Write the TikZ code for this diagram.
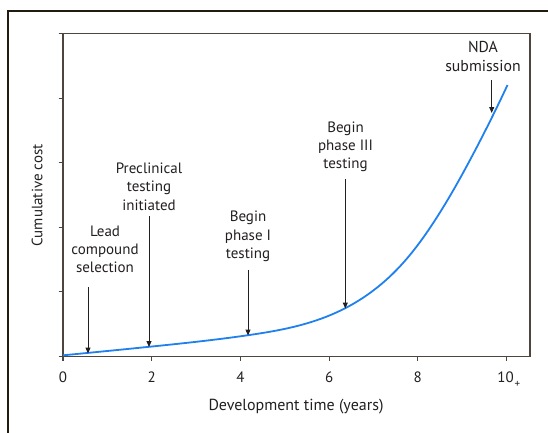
\documentclass[tikz,border=0pt]{standalone}
\usepackage{fontspec}
\setmainfont{PT Sans}
\usetikzlibrary{arrows.meta,hobby}
\definecolor{txt}{HTML}{231F20}
\definecolor{axc}{HTML}{4D4640}
\definecolor{frm}{HTML}{231A10}
\definecolor{curveblue}{HTML}{1F80EE}
\begin{document}
\begin{tikzpicture}[x=1pt,y=-1pt,
  lbl/.style={font=\fontsize{15}{18.3}\selectfont, text=txt, align=center, inner sep=0pt},
  ticklbl/.style={font=\fontsize{15}{18}\selectfont, text=txt, inner sep=0pt},
  pointer/.style={draw=txt, line width=1pt, -{Triangle[length=6pt,width=5pt]}},
  axisline/.style={draw=axc, line width=1.3pt},
  tickline/.style={draw=axc, line width=1.1pt}]
\useasboundingbox (0,0) rectangle (548,432);
% outer frame (left and top)
\draw[frm, line width=2pt] (8,433) -- (8,11) -- (549,11);
% plot box
\draw[axisline] (63,33.5) rectangle (530,356.5);
% y ticks
\foreach \yy in {33.5,98.1,162.7,227.3,291.9,356.5}
  \draw[tickline] (58.5,\yy) -- (63,\yy);
% x ticks and labels
\foreach \k/\xx in {0/63,2/151.7,4/240.4,6/329.1,8/417.8}{
  \draw[tickline] (\xx,356.5) -- (\xx,361);
  \node[ticklbl] (xt\k) at (\xx,377) {\k};
}
\draw[tickline] (506.5,356.5) -- (506.5,361);
\node[ticklbl] (xt10) at (505.5,377) {10};
\node[ticklbl, font=\fontsize{11}{13}\selectfont] (xtplus) at (517.5,384) {+};
% axis labels
\node[lbl, font=\fontsize{16}{18.3}\selectfont] (xlab) at (296,406.5) {Development time (years)};
\node[lbl, rotate=90] (ylab) at (37,195.5) {Cumulative cost};
% curve
\draw[curveblue, line width=1.8pt, use Hobby shortcut]
  (63,355.3) .. (149,346.8) .. (248,335.2) .. (307,323.3) .. (345,308.3)
  .. (393,273.5) .. (433,223.3) .. (470,160) .. (507.5,85);
% labels
\node[lbl] (lead) at (105,249.2) {Lead\\compound\\selection};
\node[lbl] (precl) at (149,186.5) {Preclinical\\testing\\initiated};
\node[lbl] (ph1) at (248,236.5) {Begin\\phase I\\testing};
\node[lbl] (ph3) at (345.5,146.7) {Begin\\phase III\\testing};
\node[lbl, font=\fontsize{15.8}{18.3}\selectfont] (nda) at (483,56.5) {NDA\\submission};
% arrow endpoints
\coordinate (leadS) at (88,287);  \coordinate (leadE) at (88,353.5);
\coordinate (preS) at (149,216);  \coordinate (preE) at (149,347);
\coordinate (p1S) at (248,270);   \coordinate (p1E) at (248,335.5);
\coordinate (p3S) at (345.3,179); \coordinate (p3E) at (345.3,308.5);
\coordinate (ndaS) at (491.7,80); \coordinate (ndaE) at (491.7,113);
\draw[pointer] (leadS) -- (leadE);
\draw[pointer] (preS) -- (preE);
\draw[pointer] (p1S) -- (p1E);
\draw[pointer] (p3S) -- (p3E);
\draw[pointer] (ndaS) -- (ndaE);
\end{tikzpicture}
\end{document}
